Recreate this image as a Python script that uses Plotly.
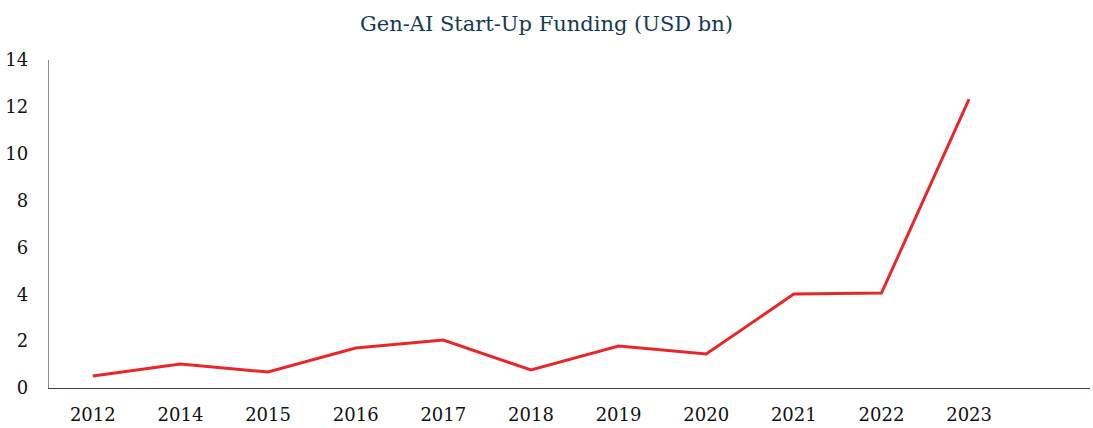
import plotly.graph_objects as go

years = ["2012", "2014", "2015", "2016", "2017", "2018", "2019", "2020", "2021", "2022", "2023"]
funding = [0.51, 1.02, 0.68, 1.71, 2.05, 0.77, 1.79, 1.45, 4.01, 4.05, 12.33]
y_ticks = [0, 2, 4, 6, 8, 10, 12, 14]

font_family = "DejaVu Serif, Liberation Serif, serif"

fig = go.Figure()
fig.add_trace(go.Scatter(
    x=years, y=funding, mode="lines",
    line=dict(color="#e8272b", width=3),
    hoverinfo="x+y",
))

fig.update_layout(
    width=1093, height=428,
    paper_bgcolor="white", plot_bgcolor="white",
    margin=dict(l=49, r=3, t=60, b=40, autoexpand=False),
    title=dict(text="Gen-AI Start-Up Funding (USD bn)", x=0.5, xanchor="center",
               y=0.945, yanchor="middle",
               font=dict(family=font_family, size=21, color="#143a54")),
    showlegend=False,
    font=dict(family=font_family, color="#111111"),
)
fig.update_xaxes(
    type="category", range=[-0.5, 11.38], automargin=False,
    showline=True, linecolor="#3c4058", linewidth=1.3,
    showgrid=False, ticks="", tickfont=dict(size=18, color="#111111"),
    ticklabelstandoff=10,
)
fig.update_yaxes(
    range=[0, 14], tickvals=y_ticks, automargin=False,
    showline=True, linecolor="#8a8e9c", linewidth=1.3,
    showgrid=False, zeroline=False, ticks="",
    tickfont=dict(size=18, color="#111111"),
    ticklabelstandoff=16,
)

fig.write_html("out.html", config={"displayModeBar": False},
               post_script="document.body.style.margin='0';")
